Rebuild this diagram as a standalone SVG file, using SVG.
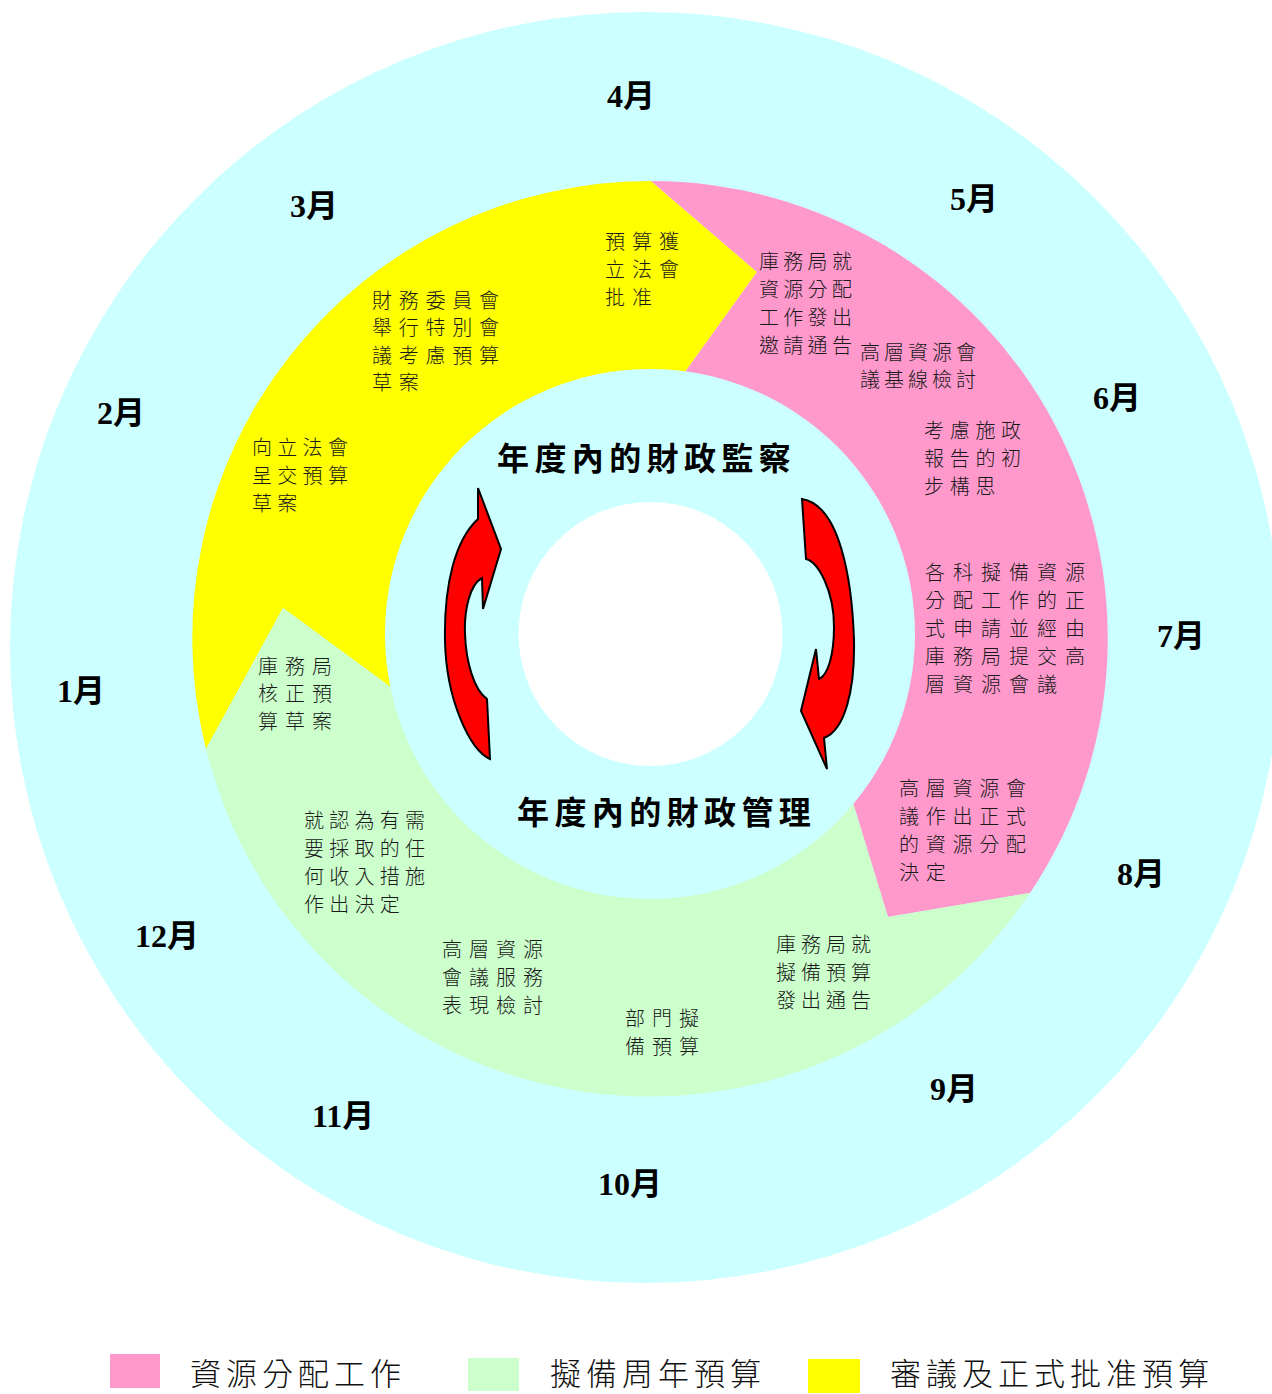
<svg xmlns="http://www.w3.org/2000/svg" width="1272" height="1394" viewBox="0 0 1272 1394">
<style>
.bg{fill:#FFFFFF}
.cyan{fill:#CCFFFF}
.yellow{fill:#FFFF00}
.pink{fill:#FF99CC}
.green{fill:#CCFFCC}
.white{fill:#FFFFFF}
.arrow{fill:#FF0000;stroke:#000000;stroke-width:2;stroke-linejoin:miter}
.month{font-family:"Liberation Serif","Noto Sans CJK TC",serif;font-size:32px;font-weight:bold;fill:#000}
.title{font-family:"Noto Sans CJK TC","Noto Sans CJK SC",sans-serif;font-size:32px;font-weight:bold;fill:#000;letter-spacing:5.4px}
.body{font-family:"Noto Sans CJK TC","Noto Sans CJK SC",sans-serif;font-size:20px;font-weight:300;fill:#1a1a1a}
.legend{font-family:"Noto Sans CJK TC","Noto Sans CJK SC",sans-serif;font-size:31px;font-weight:300;fill:#111;letter-spacing:5px}
</style>
<rect class="bg" x="0" y="0" width="1272" height="1394"/>
<circle id="outer-ring" class="cyan" cx="645.5" cy="647.5" r="635.5"/>

<g id="segment-approval">
<path class="yellow" d="M206,749 A457,457 0 0 1 651,181 L757,272 L685,372 L650,634 L392,688 L283,608 Z"/>
</g>
<g id="segment-allocation">
<path class="pink" d="M651,181 A457,457 0 0 1 1030,893 L888,917 L853,803 L650,634 L685,372 L757,272 Z"/>
</g>
<g id="segment-preparation">
<path class="green" d="M1030,893 A457,457 0 0 1 206,749 L283,608 L392,688 L650,634 L853,803 L888,917 Z"/>
</g>
<circle id="inner-ring" class="cyan" cx="650" cy="634" r="265"/>
<circle id="center-hole" class="white" cx="650.5" cy="634" r="132"/>

<g id="connectors">
<path class="arrow" d="M478,488 L501,549 L483,609 L482,578 C470,584 464,610 465,634 C466,662 474,690 487,699 L490,759 C470,750 446,700 445,640 C444,585 455,540 478,519 Z"/>
<path class="arrow" d="M802,499 L806,559 C818,562 834,590 834,627 C834,655 828,675 819,679 L816,649 L801,711 L827,769 L824,738 C845,730 855,690 854,640 C852,580 840,505 802,499 Z"/>
</g>

<g id="months">
<text class="month" x="607" y="107">4月</text>
<text class="month" x="950" y="210">5月</text>
<text class="month" x="290" y="217">3月</text>
<text class="month" x="1093" y="409">6月</text>
<text class="month" x="97" y="424">2月</text>
<text class="month" x="1157" y="647">7月</text>
<text class="month" x="57" y="702">1月</text>
<text class="month" x="1117" y="885">8月</text>
<text class="month" x="135" y="947">12月</text>
<text class="month" x="930" y="1100">9月</text>
<text class="month" x="312" y="1127">11月</text>
<text class="month" x="598" y="1195">10月</text>
</g>

<g id="title-monitoring"><text class="title" x="497" y="470">年度內的財政監察</text></g>
<g id="title-management"><text class="title" x="517" y="824">年度內的財政管理</text></g>

<g id="node-legco-approval"><text class="body" x="605" y="248.5" style="letter-spacing:7px"><tspan x="605">預算獲</tspan><tspan x="605" dy="28">立法會</tspan><tspan x="605" dy="28">批准</tspan></text></g>
<g id="node-fc-meeting"><text class="body" x="372" y="307.5" style="letter-spacing:6.75px"><tspan x="372">財務委員會</tspan><tspan x="372" dy="27.5">舉行特別會</tspan><tspan x="372" dy="27.5">議考慮預算</tspan><tspan x="372" dy="27.5">草案</tspan></text></g>
<g id="node-submit-legco"><text class="body" x="252" y="454.5" style="letter-spacing:5.3px"><tspan x="252">向立法會</tspan><tspan x="252" dy="28">呈交預算</tspan><tspan x="252" dy="28">草案</tspan></text></g>
<g id="node-invitation"><text class="body" x="759" y="268.5" style="letter-spacing:4.3px"><tspan x="759">庫務局就</tspan><tspan x="759" dy="28">資源分配</tspan><tspan x="759" dy="28">工作發出</tspan><tspan x="759" dy="28">邀請通告</tspan></text></g>
<g id="node-baseline-review"><text class="body" x="860" y="359.5" style="letter-spacing:4px"><tspan x="860">高層資源會</tspan><tspan x="860" dy="27">議基線檢討</tspan></text></g>
<g id="node-policy-address"><text class="body" x="924" y="437.5" style="letter-spacing:5.7px"><tspan x="924">考慮施政</tspan><tspan x="924" dy="28">報告的初</tspan><tspan x="924" dy="28">步構思</tspan></text></g>
<g id="node-bids"><text class="body" x="925" y="579.5" style="letter-spacing:8px"><tspan x="925">各科擬備資源</tspan><tspan x="925" dy="28">分配工作的正</tspan><tspan x="925" dy="28">式申請並經由</tspan><tspan x="925" dy="28">庫務局提交高</tspan><tspan x="925" dy="28">層資源會議</tspan></text></g>
<g id="node-allocation-decision"><text class="body" x="899" y="795.5" style="letter-spacing:6.75px"><tspan x="899">高層資源會</tspan><tspan x="899" dy="28">議作出正式</tspan><tspan x="899" dy="28">的資源分配</tspan><tspan x="899" dy="28">決定</tspan></text></g>
<g id="node-estimates-circular"><text class="body" x="776" y="951.5" style="letter-spacing:5px"><tspan x="776">庫務局就</tspan><tspan x="776" dy="28">擬備預算</tspan><tspan x="776" dy="28">發出通告</tspan></text></g>
<g id="node-dept-estimates"><text class="body" x="625" y="1025.5" style="letter-spacing:7px"><tspan x="625">部門擬</tspan><tspan x="625" dy="28">備預算</tspan></text></g>
<g id="node-performance-review"><text class="body" x="442" y="956.5" style="letter-spacing:7px"><tspan x="442">高層資源</tspan><tspan x="442" dy="28">會議服務</tspan><tspan x="442" dy="28">表現檢討</tspan></text></g>
<g id="node-revenue-measures"><text class="body" x="304" y="827.5" style="letter-spacing:5.25px"><tspan x="304">就認為有需</tspan><tspan x="304" dy="28">要採取的任</tspan><tspan x="304" dy="28">何收入措施</tspan><tspan x="304" dy="28">作出決定</tspan></text></g>
<g id="node-vet-draft"><text class="body" x="258" y="673.5" style="letter-spacing:7px"><tspan x="258">庫務局</tspan><tspan x="258" dy="27.5">核正預</tspan><tspan x="258" dy="27.5">算草案</tspan></text></g>

<g id="legend">
<rect class="pink" x="110" y="1354" width="50" height="34"/>
<text class="legend" x="190" y="1385">資源分配工作</text>
<rect class="green" x="468" y="1358" width="51" height="33"/>
<text class="legend" x="550" y="1385">擬備周年預算</text>
<rect class="yellow" x="808" y="1359" width="52" height="34"/>
<text class="legend" x="890" y="1385">審議及正式批准預算</text>
</g>
</svg>
